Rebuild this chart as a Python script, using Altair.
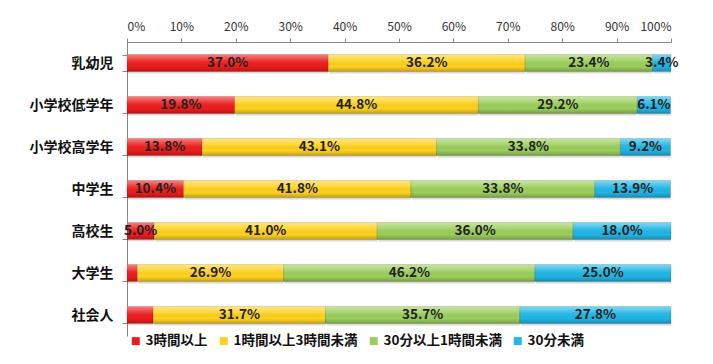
import altair as alt
import pandas as pd

categories = ["乳幼児", "小学校低学年", "小学校高学年", "中学生", "高校生", "大学生", "社会人"]
series = ["3時間以上", "1時間以上3時間未満", "30分以上1時間未満", "30分未満"]
v_3h = [37.0, 19.8, 13.8, 10.4, 5.0, 1.9, 4.8]
v_1to3 = [36.2, 44.8, 43.1, 41.8, 41.0, 26.9, 31.7]
v_30to1 = [23.4, 29.2, 33.8, 33.8, 36.0, 46.2, 35.7]
v_lt30 = [3.4, 6.1, 9.2, 13.9, 18.0, 25.0, 27.8]
labelled_3h = [True, True, True, True, True, False, False]
colors = ["#EE1C1C", "#FFD21E", "#9BCF5B", "#20B6E6"]
x_ticks = [0, 10, 20, 30, 40, 50, 60, 70, 80, 90, 100]

rows = []
for i, c in enumerate(categories):
    start = 0.0
    for j, (s, vals) in enumerate(zip(series, [v_3h, v_1to3, v_30to1, v_lt30])):
        v = vals[i]
        show = j > 0 or labelled_3h[i]
        rows.append(dict(cat=c, series=s, order=j, value=v, start=start,
                         end=start + v, mid=start + v / 2,
                         label=f"{v:.1f}%" if show else ""))
        start += v
df = pd.DataFrame(rows)

FONT = "Noto Sans CJK JP"

xenc = alt.X("start:Q", scale=alt.Scale(domain=[0, 100], nice=False),
             axis=alt.Axis(orient="top", values=x_ticks, grid=False, title=None,
                           labelExpr="datum.value + '%'", tickSize=4, labelPadding=5,
                           labelFont=FONT, labelFontSize=12, labelColor="#333",
                           tickColor="#888", domainColor="#888"))
yenc = alt.Y("cat:N", sort=categories,
             scale=alt.Scale(paddingInner=0.6, paddingOuter=0.3),
             axis=alt.Axis(title=None, labelFont=FONT, labelFontSize=14,
                           labelFontWeight="bold", labelColor="#111",
                           tickBand="extent", tickSize=5, tickColor="#888",
                           domainColor="#888", labelPadding=9))

base = alt.Chart(df)

shadow = base.mark_bar(color="#000", opacity=0.15, yOffset=2, xOffset=1).encode(
    x=xenc, x2="end:Q", y=yenc)

bars = base.mark_bar(stroke="#000", strokeOpacity=0.25, strokeWidth=0.6).encode(
    x=xenc, x2="end:Q", y=yenc,
    color=alt.Color("series:N", scale=alt.Scale(domain=series, range=colors),
                    legend=alt.Legend(orient="none", direction="horizontal",
                                      legendX=2, legendY=292, title=None,
                                      symbolType="square", symbolSize=64,
                                      symbolStrokeWidth=0, labelFont=FONT,
                                      labelFontSize=13.5, labelFontWeight="bold",
                                      labelColor="#111", columnPadding=9,
                                      labelOffset=3)))

gloss = base.mark_bar(color=alt.Gradient(
    gradient="linear", x1=0, y1=0, x2=0, y2=1,
    stops=[alt.GradientStop(color="rgba(255,255,255,0.45)", offset=0),
           alt.GradientStop(color="rgba(255,255,255,0.12)", offset=0.35),
           alt.GradientStop(color="rgba(0,0,0,0)", offset=0.7),
           alt.GradientStop(color="rgba(0,0,0,0.22)", offset=1)])).encode(
    x=xenc, x2="end:Q", y=yenc)

texts = base.mark_text(font=FONT, fontSize=13.5, fontWeight="bold", color="#222").encode(
    x=alt.X("mid:Q"), y=yenc, text="label:N")

chart = alt.layer(shadow, bars, gloss, texts).properties(
    width=544, height=294,
    autosize=alt.AutoSizeParams(type="none"),
    padding={"left": 119, "top": 34, "right": 34, "bottom": 20},
    background="white",
).configure_view(strokeWidth=0)

chart.save("out.html", embed_options={"renderer": "svg", "actions": False})
